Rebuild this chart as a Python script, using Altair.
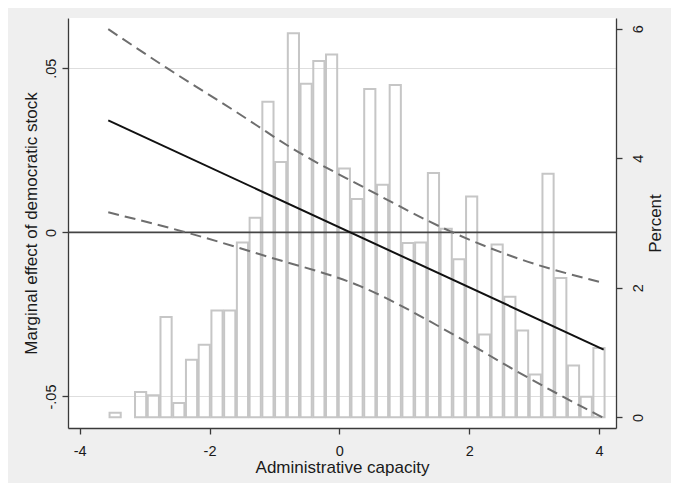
import altair as alt
import pandas as pd

# ---------------- data ----------------
x_ticks = [-4, -2, 0, 2, 4]
x_tick_labels = ["-4", "-2", "0", "2", "4"]
me_ticks = [-0.05, 0, 0.05]
me_tick_labels = ["-.05", "0", ".05"]
pct_ticks = [0, 2, 4, 6]
pct_tick_labels = ["0", "2", "4", "6"]

# histogram of Administrative capacity (percent per bin)
hist_start = -3.552
bin_width = 0.1961
hist_pct = [0.07, 0.0, 0.39, 0.34, 1.55, 0.22, 0.89, 1.12, 1.65, 1.65,
            2.70, 3.08, 4.87, 3.94, 5.93, 5.15, 5.50, 5.60, 3.84, 3.37,
            5.07, 3.59, 5.13, 2.69, 2.70, 3.77, 2.91, 2.44, 3.41, 1.28,
            2.67, 1.86, 1.34, 0.66, 3.76, 2.15, 0.80, 0.32, 1.07]

# marginal effect (solid) and 95% CI (dashed)
main_x = [-3.56, 4.07]
main_y = [0.0341, -0.0357]
upper_x = [-3.56, -2.66, -1.63, -0.61, 0.32, 1.71, 2.73, 4.07]
upper_y = [0.0619, 0.0501, 0.0372, 0.0242, 0.0143, 0.0003, -0.0078, -0.0154]
lower_x = [-3.56, -2.40, -1.12, 0.32, 1.71, 2.73, 3.97, 4.07]
lower_y = [0.0061, 0.0002, -0.0073, -0.0164, -0.0306, -0.0423, -0.0555, -0.0565]

# ---------------- tables ----------------
inset = 0.012
rows = []
for i, p in enumerate(hist_pct):
    if p > 0:
        left = hist_start + i * bin_width
        rows.append({"x": left + inset, "x2": left + bin_width - inset,
                     "pct": p, "base": 0.0})
hist_df = pd.DataFrame(rows)
main_df = pd.DataFrame({"x": main_x, "y": main_y})
upper_df = pd.DataFrame({"x": upper_x, "y": upper_y})
lower_df = pd.DataFrame({"x": lower_x, "y": lower_y})
zero_df = pd.DataFrame({"y": [0.0]})


def label_expr(values, labels):
    vals = ",".join(repr(v) for v in values)
    labs = ",".join("'" + s + "'" for s in labels)
    return f"[{labs}][indexof([{vals}], datum.value)]"


W, H = 548, 410
FONT = "Liberation Sans"
TXT = "#1a1a1a"
AX = "#3a3a3a"

x_scale = alt.Scale(domain=[-4.18, 4.26], nice=False, zero=False)
me_scale = alt.Scale(domain=[-0.0596, 0.0653], nice=False, zero=False)
pct_scale = alt.Scale(domain=[-0.164, 6.164], nice=False, zero=False)

x_axis = alt.Axis(
    orient="bottom", values=x_ticks, labelExpr=label_expr(x_ticks, x_tick_labels),
    grid=False, tickSize=6, labelPadding=10, labelBaseline="top",
    title="Administrative capacity", titleX=274, titleY=44.3,
    titleAlign="center", titleBaseline="alphabetic", titleAngle=0,
)

pct_axis = alt.Axis(
    orient="right", values=pct_ticks, labelExpr=label_expr(pct_ticks, pct_tick_labels),
    grid=False, tickSize=6, labelAngle=270, labelAlign="center", labelBaseline="top",
    labelPadding=9, title="Percent", titleAngle=270, titleX=44, titleY=205,
    titleAlign="center", titleBaseline="alphabetic",
)

me_axis = alt.Axis(
    orient="left", values=me_ticks, labelExpr=label_expr(me_ticks, me_tick_labels),
    grid=True, gridColor="#dedede", gridWidth=1, tickSize=6, labelAngle=270,
    labelAlign="center", labelBaseline="alphabetic", labelPadding=7,
    title="Marginal effect of democratic stock", titleAngle=270, titleX=-31.3,
    titleY=205, titleAlign="center", titleBaseline="alphabetic",
)

X = alt.X("x:Q", scale=x_scale, axis=x_axis)
Y = alt.Y("y:Q", scale=me_scale, axis=me_axis)

hist = alt.Chart(hist_df).mark_rect(
    fillOpacity=0, stroke="#c6c6c6", strokeWidth=2
).encode(
    x=X,
    x2="x2:Q",
    y=alt.Y("pct:Q", scale=pct_scale, axis=pct_axis),
    y2="base:Q",
)

zero_rule = alt.Chart(zero_df).mark_rule(
    color="#444444", strokeWidth=1.8
).encode(y=Y)

upper = alt.Chart(upper_df).mark_line(
    color="#6e6e6e", strokeWidth=2, strokeDash=[11, 6], interpolate="monotone"
).encode(x=X, y=Y)

lower = alt.Chart(lower_df).mark_line(
    color="#6e6e6e", strokeWidth=2, strokeDash=[11, 6], interpolate="monotone"
).encode(x=X, y=Y)

main = alt.Chart(main_df).mark_line(color="#111111", strokeWidth=2).encode(x=X, y=Y)

effects = alt.layer(zero_rule, upper, lower, main)

chart = alt.layer(hist, effects).resolve_scale(y="independent").properties(
    width=W, height=H,
    autosize=alt.AutoSizeParams(type="none"),
    padding={"left": 60, "top": 10, "right": 55, "bottom": 55},
).configure(
    font=FONT, background="#efefef"
).configure_view(
    fill="white", strokeWidth=0
).configure_axis(
    domainColor=AX, domainWidth=1.3, tickColor=AX, tickWidth=1.3,
    labelColor=TXT, labelFontSize=14.5, labelFont=FONT,
    titleColor=TXT, titleFontSize=17, titleFont=FONT, titleFontWeight="normal",
)

chart.save("out.html", embed_options={"renderer": "svg", "actions": False})
